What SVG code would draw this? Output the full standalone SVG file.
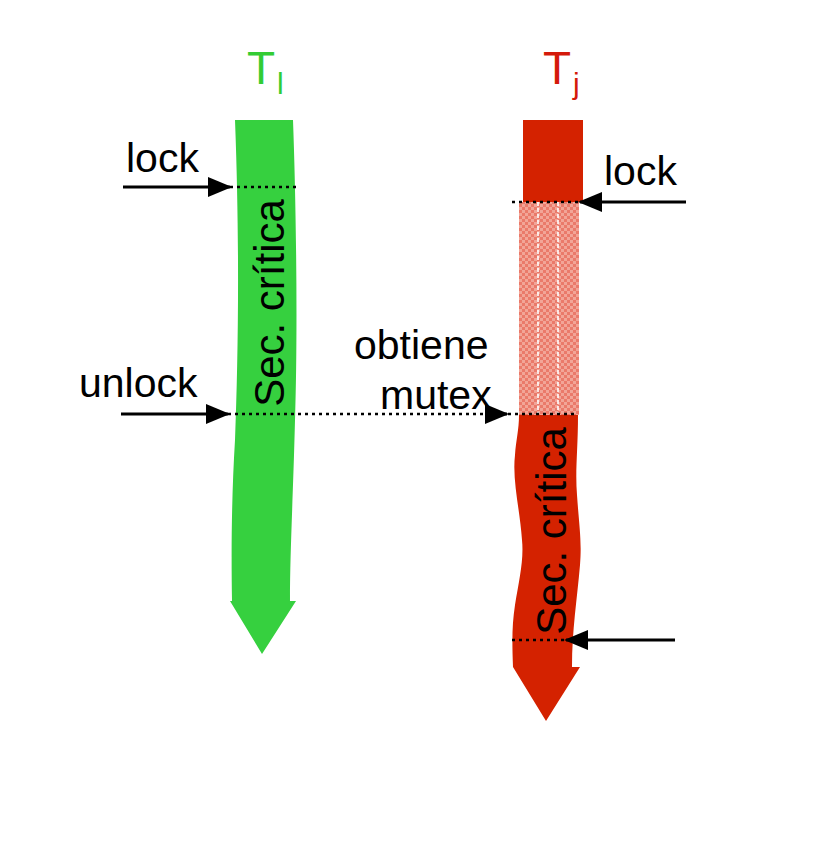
<svg xmlns="http://www.w3.org/2000/svg" width="834" height="848" viewBox="0 0 834 848">
<defs>
<style>
text{font-family:"Liberation Sans",Arial,sans-serif;fill:#000}
.lbl{font-size:41px}
.sec{font-size:42px}
.arrow{stroke:#000;stroke-width:3;fill:none}
.dot{stroke:#000;stroke-width:2.5;stroke-dasharray:3,4;fill:none}
</style>
<marker id="ah" markerWidth="24" markerHeight="20" refX="22" refY="10" orient="auto" markerUnits="userSpaceOnUse">
<path d="M0,0 L24,10 L0,20 Z" fill="#000"/>
</marker>
<pattern id="chk" width="6" height="6" patternUnits="userSpaceOnUse">
<rect width="6" height="6" fill="#ea7a6a"/>
<rect width="3" height="3" fill="#f2a597"/>
<rect x="3" y="3" width="3" height="3" fill="#f2a597"/>
</pattern>
</defs>

<g id="Ti">
<text x="247" y="84" font-size="46" style="fill:#33cc33">T<tspan font-size="30" dy="10" dx="2" style="fill:#33cc33">l</tspan></text>
<path d="M235,120 L293,120 C296,200 298,330 295,420 C293,500 290,550 290,601 L296,601 L262,654 L230,601 L232,601 C231,540 232,490 235,440 C238,360 240,250 235,120 Z" fill="#36d03f"/>
<text class="sec" transform="translate(284,303) rotate(-90)" text-anchor="middle">Sec. crítica</text>
</g>

<g id="Tj">
<text x="543" y="84" font-size="46" style="fill:#d41a0a">T<tspan font-size="30" dy="10" dx="2" style="fill:#d41a0a">j</tspan></text>
<rect x="523" y="120" width="60" height="82" fill="#d42200"/>
<rect x="519" y="202" width="60" height="213" fill="url(#chk)"/>
<g stroke="#ffffff" stroke-width="2" stroke-dasharray="4,2" opacity="0.8">
<line x1="538" y1="202" x2="538" y2="415"/>
<line x1="558" y1="202" x2="558" y2="415"/>
</g>
<path d="M519,415 L578,415 C578,450 575,470 577,495 C579,525 582,540 580,565 C577,600 572,630 572,667 L580,667 L546,721 L513,667 C512,640 512,625 515,605 C519,580 524,560 522,540 C520,510 512,480 515,455 C516,440 519,430 519,415 Z" fill="#d42200"/>
<text class="sec" transform="translate(566,531) rotate(-90)" text-anchor="middle">Sec. crítica</text>
</g>

<g id="labels">
<text class="lbl" x="126" y="172">lock</text>
<text class="lbl" x="79" y="397">unlock</text>
<text class="lbl" x="604" y="185">lock</text>
<text class="lbl" x="354" y="359">obtiene</text>
<text class="lbl" x="380" y="409">mutex</text>
</g>

<g id="connectors">
<line class="dot" x1="230" y1="187" x2="296" y2="187"/>
<line class="arrow" x1="123" y1="187" x2="230" y2="187" marker-end="url(#ah)"/>
<line class="dot" x1="228" y1="414" x2="578" y2="414"/>
<line class="arrow" x1="121" y1="414" x2="228" y2="414" marker-end="url(#ah)"/>
<line class="arrow" x1="486" y1="414" x2="507" y2="414" stroke-width="0" marker-end="url(#ah)"/>
<line class="dot" x1="512" y1="202" x2="582" y2="202"/>
<line class="arrow" x1="686" y1="202" x2="580" y2="202" marker-end="url(#ah)"/>
<line class="dot" x1="512" y1="640" x2="568" y2="640"/>
<line class="arrow" x1="675" y1="640" x2="566" y2="640" marker-end="url(#ah)"/>
</g>
</svg>
